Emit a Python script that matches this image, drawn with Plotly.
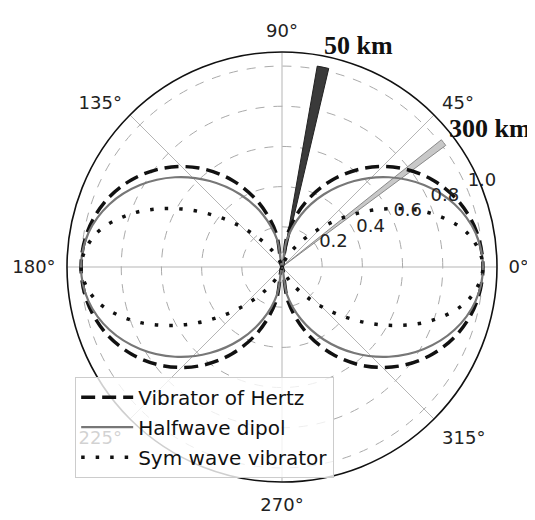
import plotly.graph_objects as go

theta_deg = [0, 10, 20, 30, 40, 50, 60, 70, 80, 90, 100, 110, 120, 130, 140, 150, 160, 170, 180,
             190, 200, 210, 220, 230, 240, 250, 260, 270, 280, 290, 300, 310, 320, 330, 340, 350, 360]

hertz = [1.0, 0.985, 0.94, 0.866, 0.766, 0.643, 0.5, 0.342, 0.174, 0.0, 0.174, 0.342, 0.5, 0.643, 0.766, 0.866, 0.94, 0.985, 1.0,
         0.985, 0.94, 0.866, 0.766, 0.643, 0.5, 0.342, 0.174, 0.0, 0.174, 0.342, 0.5, 0.643, 0.766, 0.866, 0.94, 0.985, 1.0]

halfwave = [1.0, 0.978, 0.914, 0.816, 0.695, 0.559, 0.418, 0.277, 0.137, 0.0, 0.137, 0.277, 0.418, 0.559, 0.695, 0.816, 0.914, 0.978, 1.0,
            0.978, 0.914, 0.816, 0.695, 0.559, 0.418, 0.277, 0.137, 0.0, 0.137, 0.277, 0.418, 0.559, 0.695, 0.816, 0.914, 0.978, 1.0]

symwave = [1.0, 0.942, 0.785, 0.577, 0.370, 0.200, 0.088, 0.026, 0.003, 0.0, 0.003, 0.026, 0.088, 0.200, 0.370, 0.577, 0.785, 0.942, 1.0,
           0.942, 0.785, 0.577, 0.370, 0.200, 0.088, 0.026, 0.003, 0.0, 0.003, 0.026, 0.088, 0.200, 0.370, 0.577, 0.785, 0.942, 1.0]

beam_labels = ["50 km", "300 km"]
beam_theta = [78.4, 37.6]
beam_r = [1.015, 1.015]
beam_width = [3.3, 2.0]

angle_ticks = [0, 45, 90, 135, 180, 225, 270, 315]
angle_text = ["0°", "45°", "90°", "135°", "180°", "225°", "270°", "315°"]
radial_ticks = [0.2, 0.4, 0.6, 0.8, 1.0]
radial_text = ["0.2", "0.4", "0.6", "0.8", "1.0"]

label_angle = 22.5

fig = go.Figure()

fig.add_trace(go.Barpolar(r=[beam_r[0]], theta=[beam_theta[0]], width=[beam_width[0]],
                          marker=dict(color="#3a3a3a", line=dict(color="#222", width=1)),
                          showlegend=False, hoverinfo="skip"))
fig.add_trace(go.Barpolar(r=[beam_r[1]], theta=[beam_theta[1]], width=[beam_width[1]],
                          marker=dict(color="#c8c8c8", line=dict(color="#8a8a8a", width=1)),
                          showlegend=False, hoverinfo="skip"))

fig.add_trace(go.Scatterpolar(r=hertz, theta=theta_deg, mode="lines", name="Vibrator of Hertz",
                              legendgroup="a",
                              line=dict(color="#111", width=3.5, dash="14px,7px", shape="spline")))
fig.add_trace(go.Scatterpolar(r=halfwave, theta=theta_deg, mode="lines", name="Halfwave dipol",
                              legendgroup="b",
                              line=dict(color="#777", width=2.2, shape="spline")))
fig.add_trace(go.Scatterpolar(r=symwave, theta=theta_deg, mode="lines", name="Sym wave vibrator",
                              legendgroup="c",
                              line=dict(color="#111", width=3.5, dash="3.5px,11px", shape="spline")))

# radial tick labels (horizontal, beside the 22.5° spoke, like the original)
fig.add_trace(go.Scatterpolar(r=radial_ticks,
                              theta=[label_angle] * len(radial_ticks),
                              mode="text", text=radial_text, textposition="top right",
                              textfont=dict(family="DejaVu Sans", size=18, color="#222"),
                              cliponaxis=False, showlegend=False, hoverinfo="skip"))

fig.update_layout(
    width=535, height=520,
    margin=dict(l=59, r=46, t=44, b=46),
    paper_bgcolor="white",
    font=dict(family="DejaVu Sans", size=18, color="#222"),
    polar=dict(
        domain=dict(x=[0, 1], y=[0, 1]),
        bgcolor="white",
        barmode="overlay",
        radialaxis=dict(range=[0, 1.07], tickmode="array", tickvals=radial_ticks,
                        showticklabels=False, angle=22.5, showline=False, ticks="",
                        gridcolor="#aaa", griddash="dash", gridwidth=1),
        angularaxis=dict(tickmode="array", tickvals=angle_ticks, ticktext=angle_text,
                         direction="counterclockwise", rotation=0, showline=True, linecolor="#111",
                         linewidth=1.6, ticks="outside", ticklen=7, tickcolor="rgba(0,0,0,0)",
                         gridcolor="#b5b5b5", gridwidth=1,
                         tickfont=dict(size=18, color="#222")),
    ),
    legend=dict(x=0.019, y=0.245, xanchor="left", yanchor="top", itemwidth=52,
                bgcolor="rgba(255,255,255,0.8)", bordercolor="#ccc", borderwidth=1,
                font=dict(family="DejaVu Sans", size=20, color="#111"), tracegroupgap=1),
    annotations=[
        dict(text="<b>" + beam_labels[0] + "</b>", x=0.677, y=1.016, xref="paper", yref="paper",
             xanchor="center", yanchor="middle",
             showarrow=False, font=dict(family="Liberation Serif", size=26, color="#111")),
        dict(text="<b>" + beam_labels[1] + "</b>", x=0.983, y=0.823, xref="paper", yref="paper",
             xanchor="center", yanchor="middle",
             showarrow=False, font=dict(family="Liberation Serif", size=26, color="#111")),
    ],
)

fig.write_html("out.html")
